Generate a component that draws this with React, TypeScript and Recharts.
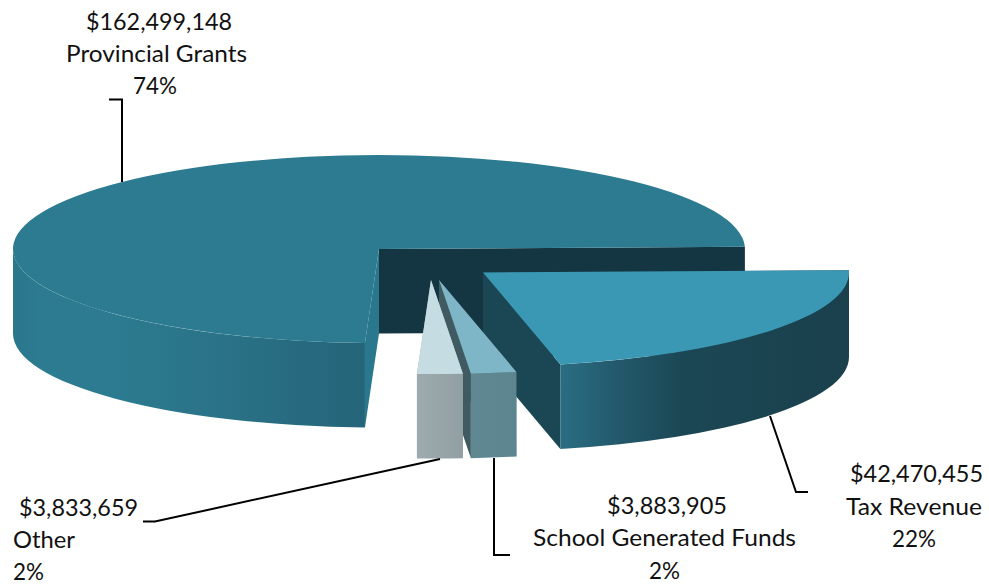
import { Pie, PieChart } from "recharts";

const categories = ["Provincial Grants", "Tax Revenue", "School Generated Funds", "Other"];
const shares = [74, 22, 2, 2];
const amounts = ["$162,499,148", "$42,470,455", "$3,883,905", "$3,833,659"];

const tableData = categories.map((category, i) => ({
  category,
  share: shares[i],
  amount: amounts[i],
  slot: i,
}));

// 3D look: the pie is flattened into an ellipse and extruded downwards
const SQUASH = 94 / 366;
const DEPTH = 84.5;

const sliceStyles = [
  {
    dx: 0,
    dy: 0,
    top: "#2c7b90",
    cutLow: "#143642",
    cutHigh: "#2a788d",
    wall: [
      ["0%", "#2a778c"],
      ["8%", "#2c7b90"],
      ["28%", "#2c7b90"],
      ["60%", "#2a7287"],
      ["100%", "#256479"],
    ],
    wallFrom: 13,
    wallTo: 366,
  },
  {
    dx: 104,
    dy: 23.5,
    top: "#3a98b4",
    cutLow: "#1a4753",
    cutHigh: "#1a4753",
    wall: [
      ["0%", "#2a6d83"],
      ["18%", "#235a6d"],
      ["42%", "#1b4754"],
      ["100%", "#1a404c"],
    ],
    wallFrom: 562,
    wallTo: 849,
  },
  {
    dx: 60,
    dy: 31,
    top: "#7fb6c7",
    cutLow: "#3f5a60",
    cutHigh: "#3f5a60",
    wall: [
      ["0%", "#5f8893"],
      ["100%", "#5c8590"],
    ],
    wallFrom: 471,
    wallTo: 517,
  },
  {
    dx: 52,
    dy: 31,
    top: "#c6dce3",
    cutLow: "#97a5a9",
    cutHigh: "#97a5a9",
    wall: [
      ["0%", "#9dabaf"],
      ["100%", "#919fa3"],
    ],
    wallFrom: 417,
    wallTo: 463,
  },
];

const rad = (deg: number) => (deg * Math.PI) / 180;

function ExtrudedSlice(props: any) {
  const { cx, cy, outerRadius, startAngle, endAngle, payload } = props;
  const slot = payload.slot;
  const style = sliceStyles[slot];
  const rx = outerRadius;
  const ry = outerRadius * SQUASH;
  const ox = cx + style.dx;
  const oy = cy + style.dy;

  let lo = Math.min(startAngle, endAngle);
  let hi = Math.max(startAngle, endAngle);
  if (hi <= 90) {
    lo += 360;
    hi += 360;
  }
  const x = (a: number) => ox + rx * Math.cos(rad(a));
  const y = (a: number) => oy - ry * Math.sin(rad(a));

  const cutWall = (a: number) =>
    `M${ox},${oy} L${x(a)},${y(a)} L${x(a)},${y(a) + DEPTH} L${ox},${oy + DEPTH} Z`;

  const wallFrom = Math.max(lo, 180);
  const wallTo = Math.min(hi, 360);
  const wall =
    `M${x(wallFrom)},${y(wallFrom)} A${rx},${ry} 0 0 0 ${x(wallTo)},${y(wallTo)} ` +
    `L${x(wallTo)},${y(wallTo) + DEPTH} A${rx},${ry} 0 0 1 ${x(wallFrom)},${y(wallFrom) + DEPTH} Z`;

  const large = hi - lo > 180 ? 1 : 0;
  const top = `M${ox},${oy} L${x(hi)},${y(hi)} A${rx},${ry} 0 ${large} 1 ${x(lo)},${y(lo)} Z`;
  const gradientId = `wall-${slot}`;

  return (
    <g>
      <defs>
        <linearGradient
          id={gradientId}
          gradientUnits="userSpaceOnUse"
          x1={style.wallFrom}
          x2={style.wallTo}
          y1={0}
          y2={0}
        >
          {style.wall.map(([offset, color]) => (
            <stop key={offset} offset={offset} stopColor={color} />
          ))}
        </linearGradient>
      </defs>
      <path d={cutWall(lo)} fill={style.cutLow} />
      <path d={cutWall(hi)} fill={style.cutHigh} />
      <path d={wall} fill={`url(#${gradientId})`} />
      <path d={top} fill={style.top} />
    </g>
  );
}

// Text placement per line (left, baseline, width) and leader lines, in data order
const calloutStyles = [
  {
    lines: [
      [86, 30, 146],
      [66, 62, 181],
      [133, 94, 44],
    ],
    leader: "122,182 122,99.5 109,99.5",
  },
  {
    lines: [
      [850, 482, 133],
      [846, 515, 136],
      [892, 547, 44],
    ],
    leader: "770,416 796,492 808,492",
  },
  {
    lines: [
      [607, 514, 120],
      [533, 546, 263],
      [649, 579, 31],
    ],
    leader: "494,458 494,555 510,555",
  },
  {
    lines: [
      [19, 516, 119],
      [13, 548, 62],
      [13, 580, 31],
    ],
    leader: "440,459 155,521.5 143,521.5",
  },
];

function Callout(props: any) {
  const slot = props.payload.slot;
  const callout = calloutStyles[slot];
  const texts = [amounts[slot], categories[slot], `${shares[slot]}%`];
  return (
    <g>
      <polyline points={callout.leader} fill="none" stroke="#000" strokeWidth={2} />
      {texts.map((line, i) => (
        <text
          key={line}
          x={callout.lines[i][0]}
          y={callout.lines[i][1]}
          textLength={callout.lines[i][2]}
          lengthAdjust="spacingAndGlyphs"
          fontFamily="Lato"
          fontSize={23.5}
          fill="#111"
        >
          {line}
        </text>
      ))}
    </g>
  );
}

export default function App() {
  return (
    <div style={{ position: "absolute", left: 0, top: 0, width: 989, height: 585 }}>
      <PieChart width={989} height={585} margin={{ top: 0, right: 0, bottom: 0, left: 0 }}>
        <Pie
          data={tableData}
          dataKey="share"
          nameKey="category"
          cx={379}
          cy={249}
          innerRadius={0}
          outerRadius={366}
          startAngle={267.8}
          endAngle={-92.2}
          stroke="none"
          shape={ExtrudedSlice}
          label={Callout}
          labelLine={false}
          isAnimationActive={false}
        />
      </PieChart>
    </div>
  );
}
